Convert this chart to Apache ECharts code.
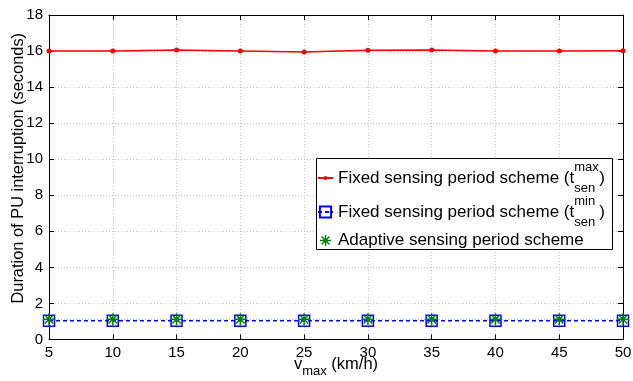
<!DOCTYPE html>
<html><head><meta charset="utf-8">
<script src="https://cdn.jsdelivr.net/npm/echarts@6/dist/echarts.min.js"></script>
<style>html,body{margin:0;padding:0;background:#fff}#c{width:633px;height:381px}</style>
</head><body><div id="c"></div>
<script>
// ---- data ----
const vmax = [5, 10, 15, 20, 25, 30, 35, 40, 45, 50];
const fixedMax = [16.0, 16.0, 16.06, 16.0, 15.95, 16.04, 16.06, 16.01, 16.01, 16.02];
const fixedMin = [1.04, 1.04, 1.04, 1.04, 1.04, 1.04, 1.04, 1.04, 1.04, 1.04];
const adaptive = [1.12, 1.12, 1.12, 1.12, 1.12, 1.12, 1.12, 1.12, 1.12, 1.12];
const xMin = 5, xMax = 50, xStep = 5;
const yMin = 0, yMax = 18, yStep = 2;
const names = ['Fixed sensing period scheme (t max sen)', 'Fixed sensing period scheme (t min sen)', 'Adaptive sensing period scheme'];
const legendLabels = [
  '{a|Fixed sensing period scheme (t}{p|max}{b|sen}{a|)}',
  '{a|Fixed sensing period scheme (t}{p|min}{b|sen}{a|)}',
  '{a|Adaptive sensing period scheme}'
];
const xName = '{a|v}{b|max}{a| (km/h)}';
const yName = 'Duration of PU interruption (seconds)';

const F = '"Liberation Sans", Arial, Helvetica, sans-serif';
const star = 'path://M10.5 0H13.5V24H10.5Z M0 10.5H24V13.5H0Z M2.44 4.56L4.56 2.44L21.56 19.44L19.44 21.56Z M19.44 2.44L21.56 4.56L4.56 21.56L2.44 19.44Z';

const legRich = {
  a: {fontSize: 17, lineHeight: 34, fontFamily: F, color: '#000'},
  p: {fontSize: 13, lineHeight: 22, verticalAlign: 'top', width: 0, align: 'left', fontFamily: F, color: '#000'},
  b: {fontSize: 13, lineHeight: 15, verticalAlign: 'bottom', width: 25, align: 'left', fontFamily: F, color: '#000'}
};
function mkLegend(i, top, ih, extra) {
  return Object.assign({
    data: [names[i]], left: 317, top: top, orient: 'vertical', padding: 0,
    itemWidth: 15, itemHeight: ih, selectedMode: false, z: 5,
    formatter: () => legendLabels[i],
    textStyle: {fontFamily: F, fontSize: 17, color: '#000', rich: legRich}
  }, extra || {});
}
const axisCommon = {
  axisLine: {show: true, onZero: false, lineStyle: {color: '#000', width: 1}},
  axisTick: {show: true, inside: true, length: 5, lineStyle: {color: '#000', width: 1}},
};
const chart = echarts.init(document.getElementById('c'), null, {renderer: 'canvas'});
chart.setOption({
  animation: false,
  backgroundColor: '#fff',
  grid: {left: 49, right: 10, top: 15, bottom: 41.5, containLabel: false, outerBoundsMode: 'none'},
  xAxis: [
    Object.assign({
      type: 'value', min: xMin, max: xMax, interval: xStep, position: 'bottom',
      axisLabel: {color: '#000', fontSize: 15, fontFamily: F, margin: 6},
      splitLine: {show: true, lineStyle: {color: '#c0c0c0', type: [1, 2], width: 1}},
      name: xName, nameLocation: 'middle', nameGap: 10.5, nameMoveOverlap: false,
      nameTextStyle: {fontFamily: F, fontSize: 16.5, color: '#000', rich: {
        a: {fontSize: 16.5, lineHeight: 28, fontFamily: F, color: '#000'},
        b: {fontSize: 13, lineHeight: 13, verticalAlign: 'bottom', fontFamily: F, color: '#000'}
      }}
    }, axisCommon),
    Object.assign({
      type: 'value', min: xMin, max: xMax, interval: xStep, position: 'top',
      axisLabel: {show: false}, splitLine: {show: false}
    }, axisCommon)
  ],
  yAxis: [
    Object.assign({
      type: 'value', min: yMin, max: yMax, interval: yStep, position: 'left',
      axisLabel: {color: '#000', fontSize: 15, fontFamily: F, margin: 6},
      splitLine: {show: true, lineStyle: {color: '#c0c0c0', type: [1, 2], width: 1}},
      name: yName, nameLocation: 'middle', nameGap: 23, nameMoveOverlap: false,
      nameTextStyle: {fontFamily: F, fontSize: 16.4, color: '#000', padding: [0, 0, 0, 18]}
    }, axisCommon),
    Object.assign({
      type: 'value', min: yMin, max: yMax, interval: yStep, position: 'right',
      axisLabel: {show: false}, splitLine: {show: false}
    }, axisCommon)
  ],
  legend: [
    mkLegend(0, 161, 5),
    mkLegend(1, 195, 14),
    mkLegend(2, 232, 14, {lineStyle: {opacity: 0}})
  ],
  graphic: [{
    type: 'rect', z: 3,
    shape: {x: 316.5, y: 158.5, width: 296, height: 91},
    style: {fill: '#fff', stroke: '#000', lineWidth: 1}
  }],
  series: [
    {
      name: names[0], type: 'line', data: vmax.map((x, i) => [x, fixedMax[i]]),
      symbol: 'circle', symbolSize: 5, z: 2,
      lineStyle: {color: '#ff0000', width: 1.5},
      itemStyle: {color: '#ff0000'}
    },
    {
      name: names[1], type: 'line', data: vmax.map((x, i) => [x, fixedMin[i]]),
      symbol: 'rect', symbolSize: 11, z: 2,
      lineStyle: {color: '#0000ff', width: 1.3, type: [4, 3]},
      itemStyle: {color: 'rgba(255,255,255,0)', borderColor: '#0000ff', borderWidth: 1.5}
    },
    {
      name: names[2], type: 'line', data: vmax.map((x, i) => [x, adaptive[i]]),
      symbol: star, symbolSize: 12, z: 2,
      lineStyle: {color: '#00a000', width: 1, type: [1, 2], opacity: 0.5},
      itemStyle: {color: '#008000'}
    }
  ]
});
</script></body></html>
